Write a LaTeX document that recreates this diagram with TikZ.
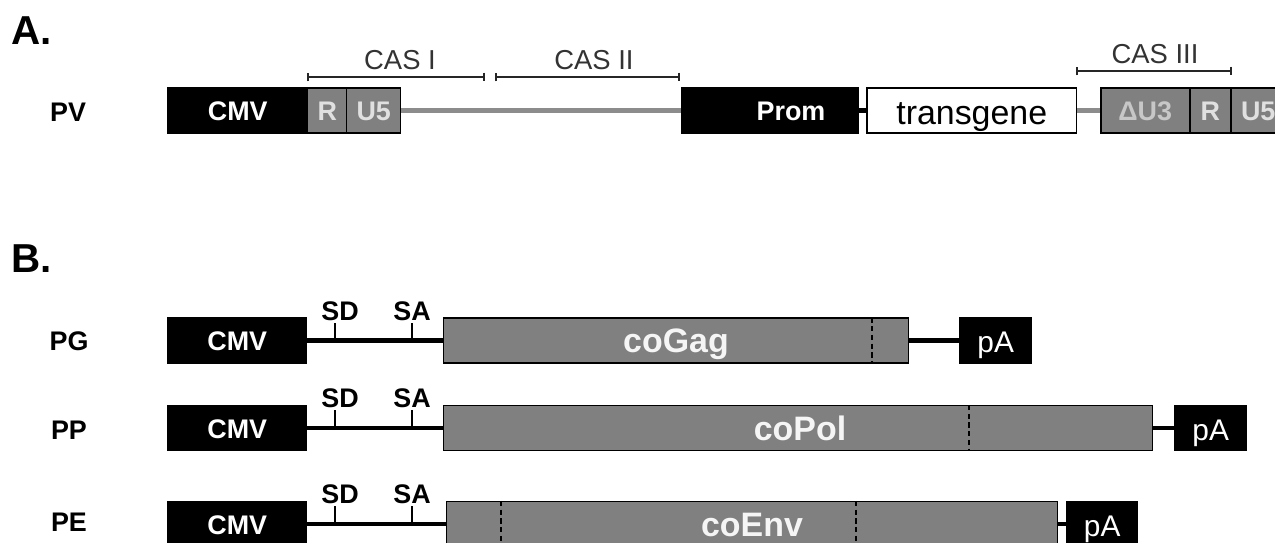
\documentclass[tikz,border=0pt]{standalone}
\usepackage{fontspec}
\setmainfont{Liberation Sans}
\usetikzlibrary{arrows.meta}
\newcommand{\fsz}[1]{\fontsize{#1}{#1}\selectfont}
\tikzset{
    blk/.style={draw=black, fill=black, text=white, font=\bfseries\fsz{15.3},
        line width=0.85pt, minimum height=0.9cm, inner sep=0pt, anchor=west,
        text height=11.4pt, text depth=0pt},
    gry/.style={blk, fill=black!50, text=black!12},
    wht/.style={blk, fill=white, text=black, font=\fsz{19.3}, text height=15.4pt},
    pabox/.style={blk, font=\fsz{17}, text height=14pt},
    cotext/.style={font=\bfseries\fsz{19.3}, text=black!4, inner sep=0pt,
        text height=13.8pt, text depth=0pt},
    wtext/.style={font=\bfseries\fsz{15.3}, text=white, inner sep=0pt,
        text height=11.4pt, text depth=0pt},
    rowlbl/.style={font=\bfseries\fsz{15.3}},
    panel/.style={font=\bfseries\fsz{23}},
    cas/.style={font=\fsz{15.6}, text=black!80},
    bb/.style={line width=2.8pt},
    gl/.style={line width=2.3pt, draw=black!45},
    casbar/.style={line width=1.1pt, draw=black!85, {Bar[width=5pt]}-{Bar[width=5pt]}},
    sitetick/.style={line width=1.1pt},
    dsh/.style={line width=0.8pt, dash pattern=on 3pt off 2pt},
}
\begin{document}
\begin{tikzpicture}[x=0.02cm, y=-0.02cm]
    \useasboundingbox (0,0) rectangle (1275,543);
    \clip (0,0) rectangle (1275,543);

    % Panel letters and construct names
    \node[panel] (panA) at (32,31) {A.};
    \node[panel] (panB) at (32,259) {B.};
    \node[rowlbl] (nPV) at (68,112.5) {PV};
    \node[rowlbl] (nPG) at (69,341) {PG};
    \node[rowlbl] (nPP) at (69,430) {PP};
    \node[rowlbl] (nPE) at (69,522) {PE};

    % PV: CMV, R, U5
    \node[blk, minimum width=2.8cm] (cmvV) at (167,110.5) {CMV};
    \node[gry, minimum width=0.78cm] (rV) at (307,110.5) {R};
    \node[gry, minimum width=1.08cm] (u5V) at (346,110.5) {U5};

    % PV: promoter and transgene
    \node[blk, minimum width=3.54cm] (promV) at (681,110.5) {};
    \node[wtext] (promT) at (791,110.5) {Prom};
    \node[wht, minimum width=4.2cm] (tgV) at (866,110.5) {transgene};

    % PV: 3' LTR (cut at the right edge)
    \node[gry, minimum width=1.78cm, text=black!22] (du3V) at (1100,110.5) {ΔU3};
    \node[gry, minimum width=0.82cm] (r2V) at (1189,110.5) {R};
    \node[gry, minimum width=1.2cm] (u52V) at (1230,110.5) {U5\hspace*{0.1cm}};

    % PV: backbone pieces
    \draw[gl] (u5V.east) -- (promV.west);
    \draw[bb] (promV.east) -- (tgV.west);
    \draw[gl] (tgV.east) -- (du3V.west);

    % CAS brackets
    \coordinate (c1a) at (307,77);  \coordinate (c1b) at (485,77);
    \coordinate (c2a) at (495,77);  \coordinate (c2b) at (680,77);
    \coordinate (c3a) at (1076,71); \coordinate (c3b) at (1232,71);
    \draw[casbar] (c1a) -- (c1b);
    \draw[casbar] (c2a) -- (c2b);
    \draw[casbar] (c3a) -- (c3b);
    \node[cas] (cas1) at (400,60) {CAS I};
    \node[cas] (cas2) at (594,60) {CAS II};
    \node[cas] (cas3) at (1155,54) {CAS III};

    % PG
    \node[blk, minimum width=2.78cm] (cmvG) at (167,340.5) {CMV};
    \node[gry, minimum width=9.3cm] (gagG) at (443,340.5) {};
    \node[cotext] (gagT) at (676,340.5) {coGag};
    \node[pabox, minimum width=1.44cm] (paG) at (959,340.5) {pA};
    \draw[bb] (cmvG.east) -- (gagG.west);
    \draw[bb] (gagG.east) -- (paG.west);
    \draw[dsh] (872,0 |- gagG.north) -- (872,0 |- gagG.south);
    \draw[sitetick] (335,340.5) -- (335,323);
    \draw[sitetick] (412,340.5) -- (412,323);
    \node[rowlbl] (sdG) at (340,311) {SD};
    \node[rowlbl] (saG) at (412,311) {SA};

    % PP
    \node[blk, minimum width=2.78cm] (cmvP) at (167,428) {CMV};
    \node[gry, minimum width=14.18cm] (polP) at (443,428) {};
    \node[cotext] (polT) at (800,428) {coPol};
    \node[pabox, minimum width=1.44cm] (paP) at (1174,428) {pA};
    \draw[bb] (cmvP.east) -- (polP.west);
    \draw[bb] (polP.east) -- (paP.west);
    \draw[dsh] (969,0 |- polP.north) -- (969,0 |- polP.south);
    \draw[sitetick] (335,428) -- (335,410.5);
    \draw[sitetick] (412,428) -- (412,410.5);
    \node[rowlbl] (sdP) at (340,398.5) {SD};
    \node[rowlbl] (saP) at (412,398.5) {SA};

    % PE
    \node[blk, minimum width=2.78cm] (cmvE) at (167,524) {CMV};
    \node[gry, minimum width=12.22cm] (envE) at (446,524) {};
    \node[cotext] (envT) at (752,524) {coEnv};
    \node[pabox, minimum width=1.42cm] (paE) at (1066,524) {pA};
    \draw[bb] (cmvE.east) -- (envE.west);
    \draw[bb] (envE.east) -- (paE.west);
    \draw[dsh] (501,0 |- envE.north) -- (501,0 |- envE.south);
    \draw[dsh] (856,0 |- envE.north) -- (856,0 |- envE.south);
    \draw[sitetick] (335,524) -- (335,506.5);
    \draw[sitetick] (412,524) -- (412,506.5);
    \node[rowlbl] (sdE) at (340,494.5) {SD};
    \node[rowlbl] (saE) at (412,494.5) {SA};

\end{tikzpicture}
\end{document}
